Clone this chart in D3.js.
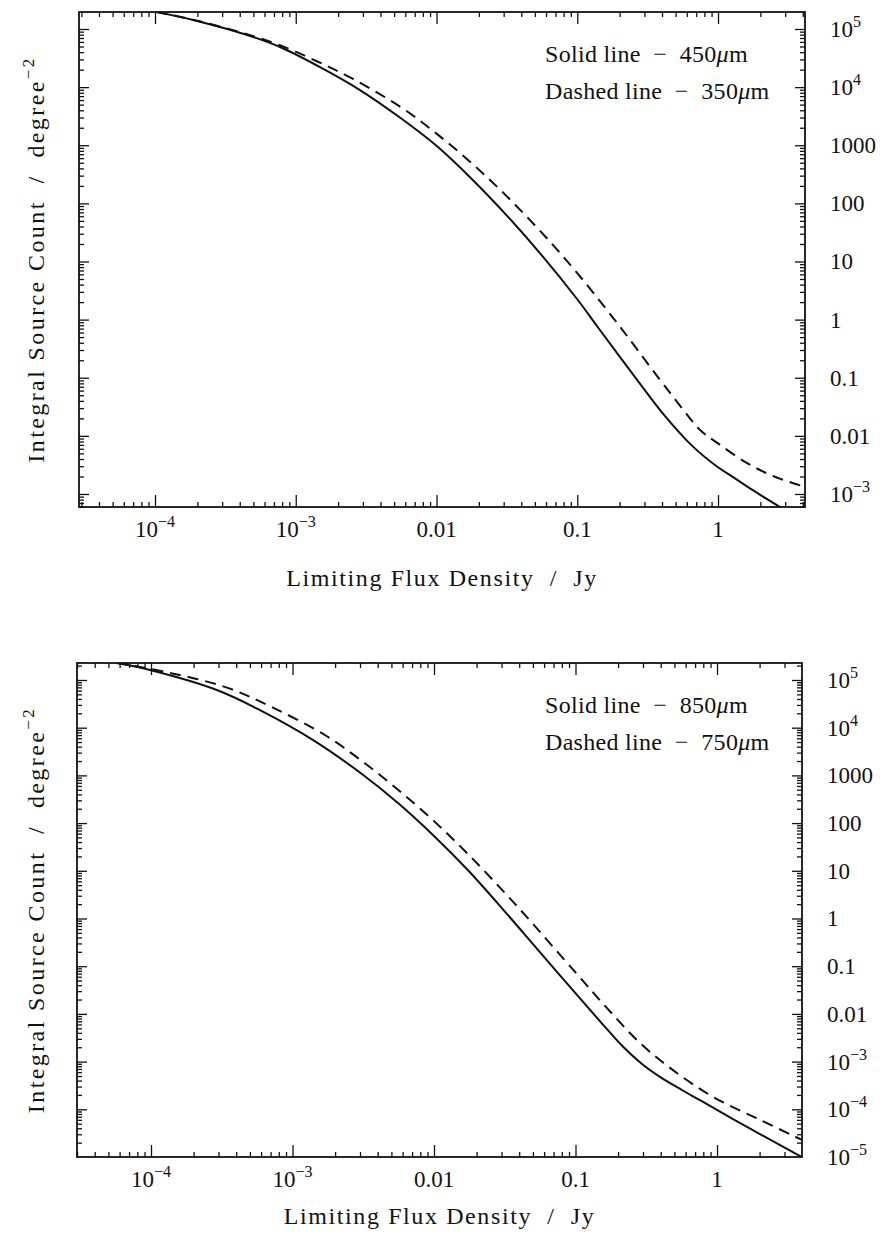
<!DOCTYPE html>
<html><head><meta charset="utf-8">
<script src="https://cdn.jsdelivr.net/npm/d3@7"></script>
<style>
body{margin:0;background:#fff}
svg{display:block}
text{font-family:"Liberation Serif","Times New Roman",serif;fill:#111}
</style>
</head><body>
<svg id="c" width="884" height="1235"></svg>
<script>
// ---------------- data (flux density in Jy, integral count per deg^2) ----------------
const xTickValues = [1e-4, 1e-3, 0.01, 0.1, 1];
const xTickLabels = [["10","-4"], ["10","-3"], ["0.01",null], ["0.1",null], ["1",null]];

const topYTickValues = [1e5, 1e4, 1000, 100, 10, 1, 0.1, 0.01, 1e-3];
const topYTickLabels = [["10","5"],["10","4"],["1000",null],["100",null],["10",null],["1",null],["0.1",null],["0.01",null],["10","-3"]];
const botYTickValues = [1e5, 1e4, 1000, 100, 10, 1, 0.1, 0.01, 1e-3, 1e-4, 1e-5];
const botYTickLabels = [["10","5"],["10","4"],["1000",null],["100",null],["10",null],["1",null],["0.1",null],["0.01",null],["10","-3"],["10","-4"],["10","-5"]];

// top panel: 450 um (solid) and 350 um (dashed)
const flux450  = [1.03e-4, 1.86e-4, 4.51e-4, 7.73e-4, 1.58e-3, 2.86e-3, 5.62e-3, 0.01, 0.0178, 0.0316, 0.0562, 0.1, 0.141, 0.267, 0.398, 0.667, 1.0, 1.28, 1.78, 2.77, 3.16];
const count450 = [1.95e5, 1.43e5, 7.89e4, 4.9e4, 2.04e4, 8.9e3, 2880, 977, 263, 61.7, 12.6, 2.24, 0.724, 0.0912, 0.0257, 6.46e-3, 2.88e-3, 1.95e-3, 1.15e-3, 5.89e-4, 4.8e-4];
const flux350  = [1.03e-4, 1.86e-4, 4.51e-4, 7.73e-4, 1.41e-3, 2.55e-3, 5.62e-3, 0.01, 0.0178, 0.0316, 0.0562, 0.1, 0.2, 0.388, 0.562, 0.746, 1.0, 1.61, 2.51, 4.17];
const count350 = [1.95e5, 1.45e5, 8.13e4, 5.25e4, 2.79e4, 1.38e4, 4470, 1585, 490, 132, 30.9, 6.31, 0.767, 0.0912, 0.0288, 0.0126, 7.41e-3, 3.39e-3, 2.0e-3, 1.32e-3];

// bottom panel: 850 um (solid) and 750 um (dashed)
const flux850  = [5.75e-5, 9.84e-5, 2.92e-4, 5.89e-4, 1.40e-3, 3.16e-3, 5.62e-3, 0.01, 0.0178, 0.0316, 0.0562, 0.108, 0.158, 0.217, 0.295, 0.395, 0.562, 0.759, 1.63, 3.97, 4.47];
const count850 = [2.27e5, 1.62e5, 6.17e4, 2.34e4, 5500, 1020, 257, 53.7, 9.55, 1.41, 0.195, 0.0209, 5.75e-3, 2.04e-3, 8.9e-4, 4.79e-4, 2.57e-4, 1.55e-4, 4.27e-5, 1.0e-5, 8.3e-6];
const flux750  = [5.75e-5, 1.36e-4, 3.44e-4, 7.28e-4, 1.75e-3, 3.16e-3, 5.62e-3, 0.01, 0.0178, 0.0316, 0.0447, 0.1, 0.167, 0.286, 0.489, 0.938, 2.01, 3.98, 4.47];
const count750 = [2.27e5, 1.41e5, 6.92e4, 2.63e4, 6610, 1905, 490, 110, 20.9, 3.47, 1.12, 0.0741, 0.0132, 2.45e-3, 6.61e-4, 1.82e-4, 6.03e-5, 2.29e-5, 1.95e-5];

const legendTop = ["Solid line  \u2212  450", "Dashed line  \u2212  350"];
const legendBot = ["Solid line  \u2212  850", "Dashed line  \u2212  750"];

// ---------------- layout ----------------
const panels = [
  {id:"top", left:79, right:805, top:12, bottom:507, xTitleDy:79,
   xDom:[Math.pow(10,-4.54), Math.pow(10,0.618)], yDom:[Math.pow(10,-3.224), Math.pow(10,5.2925)],
   yTicks: topYTickValues, yLabels: topYTickLabels,
   series:[{x:flux450,y:count450,dash:null},{x:flux350,y:count350,dash:"11,7"}],
   legend: legendTop},
  {id:"bot", left:77, right:802, top:663, bottom:1157, xTitleDy:67,
   xDom:[Math.pow(10,-4.523), Math.pow(10,0.6007)], yDom:[1e-5, Math.pow(10,5.356)],
   yTicks: botYTickValues, yLabels: botYTickLabels,
   series:[{x:flux850,y:count850,dash:null},{x:flux750,y:count750,dash:"11,7"}],
   legend: legendBot}
];

const svg = d3.select("#c");
const FS = 23;

function minorTicks(dom){
  const out=[];
  const e0=Math.floor(Math.log10(dom[0])), e1=Math.ceil(Math.log10(dom[1]));
  for(let e=e0;e<=e1;e++) for(let m=1;m<=9;m++){
    const v=m*Math.pow(10,e);
    if(v>=dom[0]*1.0001 && v<=dom[1]*0.9999) out.push(v);
  }
  return out;
}
function isMajor(v){const l=Math.log10(v);return Math.abs(l-Math.round(l))<1e-6;}

function addLabel(sel, parts){
  sel.append("tspan").text(parts[0]);
  if(parts[1]!==null){
    sel.append("tspan").attr("dy",-10).attr("font-size",FS*0.7)
       .text(parts[1].startsWith("-") ? "\u2212"+parts[1].slice(1) : parts[1]);
  }
}

panels.forEach(p=>{
  const W=p.right-p.left, H=p.bottom-p.top;
  const g=svg.append("g").attr("transform",`translate(${p.left},${p.top})`);
  const x=d3.scaleLog().domain(p.xDom).range([0,W]);
  const y=d3.scaleLog().domain(p.yDom).range([H,0]);

  const xt=minorTicks(p.xDom), yt=minorTicks(p.yDom);
  const styleTicks=(axg, majLen, minLen, vertical)=>{
    axg.select(".domain").remove();
    axg.selectAll(".tick line").attr("stroke","#111").attr("stroke-width",1.3)
      .each(function(d){
        const len=isMajor(d)?majLen:minLen;
        const s=d3.select(this);
        if(vertical) s.attr("y2",len); else s.attr("x2",len);
      });
    axg.selectAll(".tick text").remove();
  };
  const ab=g.append("g").attr("transform",`translate(0,${H})`).call(d3.axisBottom(x).tickValues(xt).tickFormat(()=>""));
  styleTicks(ab,-12,-5,true);
  const at=g.append("g").call(d3.axisTop(x).tickValues(xt).tickFormat(()=>""));
  styleTicks(at,12,5,true);
  const al=g.append("g").call(d3.axisLeft(y).tickValues(yt).tickFormat(()=>""));
  styleTicks(al,10,5,false);
  const ar=g.append("g").attr("transform",`translate(${W},0)`).call(d3.axisRight(y).tickValues(yt).tickFormat(()=>""));
  styleTicks(ar,-10,-5,false);

  g.append("rect").attr("width",W).attr("height",H).attr("fill","none").attr("stroke","#111").attr("stroke-width",1.8);

  const clipId="clip-"+p.id;
  g.append("clipPath").attr("id",clipId).append("rect").attr("width",W).attr("height",H);
  const line=d3.line().x(d=>x(d[0])).y(d=>y(d[1])).curve(d3.curveCatmullRom.alpha(0.5));
  p.series.forEach(s=>{
    const pts=s.x.map((v,i)=>[v,s.y[i]]);
    g.append("path").attr("clip-path",`url(#${clipId})`).attr("d",line(pts))
      .attr("fill","none").attr("stroke","#111").attr("stroke-width",2)
      .attr("stroke-dasharray",s.dash);
  });

  xTickValues.forEach((v,i)=>{
    const t=g.append("text").attr("x",x(v)).attr("y",H+30).attr("text-anchor","middle").attr("font-size",FS);
    addLabel(t,xTickLabels[i]);
  });
  p.yTicks.forEach((v,i)=>{
    const t=g.append("text").attr("x",W+25).attr("y",y(v)+8).attr("font-size",FS);
    addLabel(t,p.yLabels[i]);
  });

  g.append("text").attr("x",W/2).attr("y",H+p.xTitleDy).attr("text-anchor","middle").attr("font-size",24)
    .attr("letter-spacing",1.6).attr("xml:space","preserve")
    .text("Limiting Flux Density  /  Jy");
  const yl=g.append("text").attr("transform",`translate(${44-p.left},${H/2}) rotate(-90)`)
    .attr("text-anchor","middle").attr("font-size",24).attr("letter-spacing",2.4).attr("xml:space","preserve");
  yl.append("tspan").text("Integral Source Count  /  degree");
  yl.append("tspan").attr("dy",-10).attr("font-size",17).text("\u22122");

  p.legend.forEach((s,i)=>{
    const t=g.append("text").attr("x",545-p.left).attr("y",50+i*37).attr("font-size",24)
      .attr("letter-spacing",0.3).attr("xml:space","preserve");
    t.append("tspan").text(s);
    t.append("tspan").attr("font-style","italic").text("\u03bc");
    t.append("tspan").text("m");
  });
});
</script>
</body></html>
